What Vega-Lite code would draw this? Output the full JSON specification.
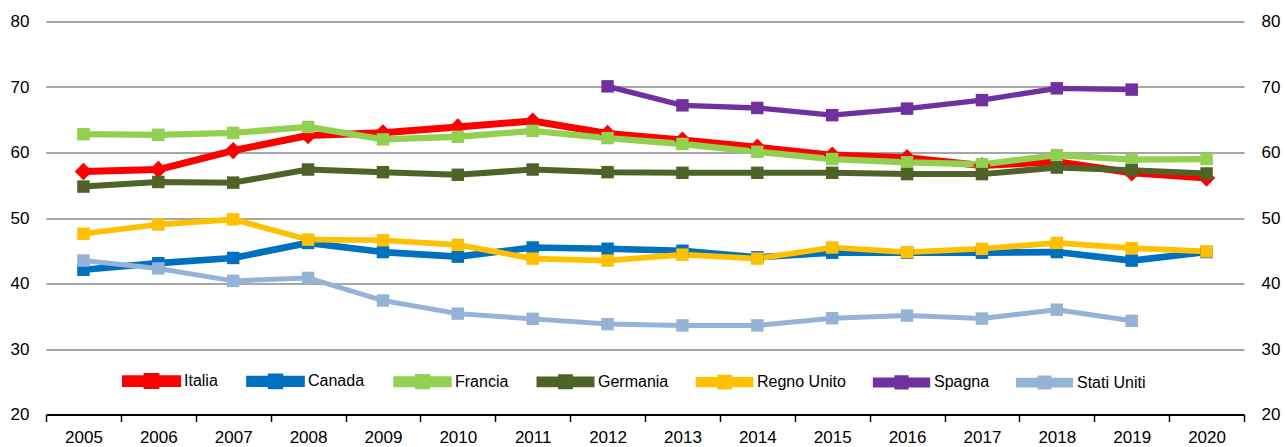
{
  "$schema": "https://vega.github.io/schema/vega-lite/v6.json",
  "width": 1198,
  "height": 393,
  "autosize": "none",
  "padding": {"left": 46, "top": 21.5, "right": 41, "bottom": 32.5},
  "background": "white",
  "config": {
    "view": {"stroke": null},
    "font": "Liberation Sans",
    "axis": {"labelFont": "Liberation Sans", "labelFontSize": 17, "labelColor": "black"}
  },
  "data": {"values": [
    {"year":"2005","paese":"Italia","v":57.1},{"year":"2006","paese":"Italia","v":57.4},{"year":"2007","paese":"Italia","v":60.3},{"year":"2008","paese":"Italia","v":62.6},{"year":"2009","paese":"Italia","v":63.0},{"year":"2010","paese":"Italia","v":63.9},{"year":"2011","paese":"Italia","v":64.8},{"year":"2012","paese":"Italia","v":62.9},{"year":"2013","paese":"Italia","v":61.9},{"year":"2014","paese":"Italia","v":60.8},{"year":"2015","paese":"Italia","v":59.6},{"year":"2016","paese":"Italia","v":59.2},{"year":"2017","paese":"Italia","v":58.0},{"year":"2018","paese":"Italia","v":58.6},{"year":"2019","paese":"Italia","v":56.9},{"year":"2020","paese":"Italia","v":56.1},
    {"year":"2005","paese":"Canada","v":42.1},{"year":"2006","paese":"Canada","v":43.1},{"year":"2007","paese":"Canada","v":43.9},{"year":"2008","paese":"Canada","v":46.2},{"year":"2009","paese":"Canada","v":44.8},{"year":"2010","paese":"Canada","v":44.1},{"year":"2011","paese":"Canada","v":45.5},{"year":"2012","paese":"Canada","v":45.3},{"year":"2013","paese":"Canada","v":45.0},{"year":"2014","paese":"Canada","v":44.0},{"year":"2015","paese":"Canada","v":44.7},{"year":"2016","paese":"Canada","v":44.7},{"year":"2017","paese":"Canada","v":44.7},{"year":"2018","paese":"Canada","v":44.8},{"year":"2019","paese":"Canada","v":43.5},{"year":"2020","paese":"Canada","v":44.8},
    {"year":"2005","paese":"Francia","v":62.8},{"year":"2006","paese":"Francia","v":62.7},{"year":"2007","paese":"Francia","v":63.0},{"year":"2008","paese":"Francia","v":63.9},{"year":"2009","paese":"Francia","v":62.0},{"year":"2010","paese":"Francia","v":62.4},{"year":"2011","paese":"Francia","v":63.3},{"year":"2012","paese":"Francia","v":62.2},{"year":"2013","paese":"Francia","v":61.3},{"year":"2014","paese":"Francia","v":60.1},{"year":"2015","paese":"Francia","v":59.0},{"year":"2016","paese":"Francia","v":58.5},{"year":"2017","paese":"Francia","v":58.2},{"year":"2018","paese":"Francia","v":59.6},{"year":"2019","paese":"Francia","v":58.9},{"year":"2020","paese":"Francia","v":59.0},
    {"year":"2005","paese":"Germania","v":54.8},{"year":"2006","paese":"Germania","v":55.5},{"year":"2007","paese":"Germania","v":55.4},{"year":"2008","paese":"Germania","v":57.4},{"year":"2009","paese":"Germania","v":57.0},{"year":"2010","paese":"Germania","v":56.6},{"year":"2011","paese":"Germania","v":57.4},{"year":"2012","paese":"Germania","v":57.0},{"year":"2013","paese":"Germania","v":56.9},{"year":"2014","paese":"Germania","v":56.9},{"year":"2015","paese":"Germania","v":56.9},{"year":"2016","paese":"Germania","v":56.7},{"year":"2017","paese":"Germania","v":56.7},{"year":"2018","paese":"Germania","v":57.7},{"year":"2019","paese":"Germania","v":57.3},{"year":"2020","paese":"Germania","v":56.8},
    {"year":"2005","paese":"Regno Unito","v":47.6},{"year":"2006","paese":"Regno Unito","v":49.0},{"year":"2007","paese":"Regno Unito","v":49.8},{"year":"2008","paese":"Regno Unito","v":46.7},{"year":"2009","paese":"Regno Unito","v":46.6},{"year":"2010","paese":"Regno Unito","v":45.9},{"year":"2011","paese":"Regno Unito","v":43.8},{"year":"2012","paese":"Regno Unito","v":43.5},{"year":"2013","paese":"Regno Unito","v":44.4},{"year":"2014","paese":"Regno Unito","v":43.8},{"year":"2015","paese":"Regno Unito","v":45.5},{"year":"2016","paese":"Regno Unito","v":44.8},{"year":"2017","paese":"Regno Unito","v":45.3},{"year":"2018","paese":"Regno Unito","v":46.2},{"year":"2019","paese":"Regno Unito","v":45.4},{"year":"2020","paese":"Regno Unito","v":44.9},
    {"year":"2012","paese":"Spagna","v":70.1},{"year":"2013","paese":"Spagna","v":67.2},{"year":"2014","paese":"Spagna","v":66.8},{"year":"2015","paese":"Spagna","v":65.7},{"year":"2016","paese":"Spagna","v":66.7},{"year":"2017","paese":"Spagna","v":68.0},{"year":"2018","paese":"Spagna","v":69.8},{"year":"2019","paese":"Spagna","v":69.6},
    {"year":"2005","paese":"Stati Uniti","v":43.5},{"year":"2006","paese":"Stati Uniti","v":42.3},{"year":"2007","paese":"Stati Uniti","v":40.4},{"year":"2008","paese":"Stati Uniti","v":40.85},{"year":"2009","paese":"Stati Uniti","v":37.4},{"year":"2010","paese":"Stati Uniti","v":35.4},{"year":"2011","paese":"Stati Uniti","v":34.6},{"year":"2012","paese":"Stati Uniti","v":33.8},{"year":"2013","paese":"Stati Uniti","v":33.6},{"year":"2014","paese":"Stati Uniti","v":33.6},{"year":"2015","paese":"Stati Uniti","v":34.7},{"year":"2016","paese":"Stati Uniti","v":35.1},{"year":"2017","paese":"Stati Uniti","v":34.65},{"year":"2018","paese":"Stati Uniti","v":36.0},{"year":"2019","paese":"Stati Uniti","v":34.3}
  ]},
  "encoding": {
    "x": {"field": "year", "type": "ordinal", "scale": {"type": "band", "paddingInner": 0, "paddingOuter": 0},
      "axis": {"title": null, "labelAngle": 0, "tickBand": "extent", "domainColor": "black", "domainWidth": 2, "tickColor": "black", "tickWidth": 1.5, "tickSize": 7, "labelPadding": 8, "grid": false}},
    "color": {"field": "paese", "type": "nominal",
      "scale": {"domain": ["Italia","Canada","Francia","Germania","Regno Unito","Spagna","Stati Uniti"],
                "range": ["#ff0000","#0070c0","#92d050","#4f6228","#ffc000","#7030a0","#95b3d7"]},
      "legend": {"title": null, "orient": "none", "direction": "horizontal", "legendX": 76, "legendY": 330,
        "symbolType": "M-1,-0.09H1V0.09H-1Z M-0.17,-0.17H0.17V0.17H-0.17Z", "symbolSize": 2704, "symbolStrokeWidth": 0,
        "labelFont": "Liberation Sans", "labelFontSize": 16, "labelColor": "black", "labelOffset": 3, "columnPadding": 18, "columns": 7,
        "encode": {"symbols": {"update": {
          "shape": {"value": "M-1,-0.09H1V0.09H-1Z M-0.17,-0.17H0.17V0.17H-0.17Z"},
          "size": {"value": 2704},
          "strokeWidth": {"value": 0},
          "fill": {"scale": "color", "field": "value"},
          "opacity": {"value": 1}
        }}}}
    }
  },
  "layer": [
    {
      "mark": {"type": "line", "strokeJoin": "round"},
      "encoding": {
        "y": {"field": "v", "type": "quantitative", "scale": {"domain": [20, 80], "nice": false},
          "axis": {"title": null, "orient": "left", "values": [20,30,40,50,60,70,80], "domain": false, "ticks": false, "labelPadding": 17, "grid": true, "gridColor": "#a6a6a6", "gridWidth": 2}},
        "strokeWidth": {"field": "paese", "type": "nominal", "scale": {"domain": ["Italia","Canada","Francia","Germania","Regno Unito","Spagna","Stati Uniti"], "range": [7,5,5,5,5,5,5]}, "legend": null}
      }
    },
    {
      "transform": [{"filter": "datum.paese === 'Italia'"}],
      "mark": {"type": "point", "filled": true, "opacity": 1, "shape": "diamond", "size": 300},
      "encoding": {
        "y": {"field": "v", "type": "quantitative", "scale": {"domain": [20, 80], "nice": false},
          "axis": {"title": null, "orient": "right", "values": [20,30,40,50,60,70,80], "domain": false, "ticks": false, "labelPadding": 17, "grid": false}}
      }
    },
    {
      "transform": [{"filter": "datum.paese !== 'Italia'"}],
      "mark": {"type": "point", "filled": true, "opacity": 1, "shape": "square", "size": 155},
      "encoding": {
        "y": {"field": "v", "type": "quantitative", "scale": {"domain": [20, 80], "nice": false}, "axis": null}
      }
    }
  ],
  "resolve": {"axis": {"y": "independent"}}
}
